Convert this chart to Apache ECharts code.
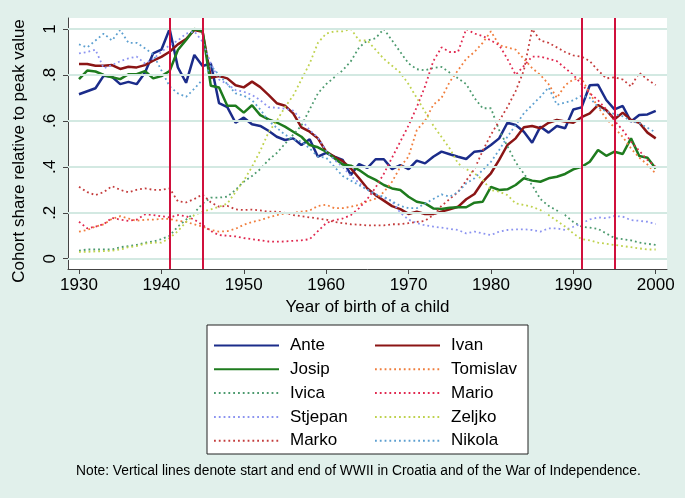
<!DOCTYPE html>
<html><head><meta charset="utf-8">
<script src="https://cdn.jsdelivr.net/npm/echarts@6/dist/echarts.min.js"></script>
<style>html,body{margin:0;padding:0;background:#e1f0eb;}#c{width:685px;height:498px;}</style>
</head><body><div id="c"></div>
<script>
const years = [1930,1931,1932,1933,1934,1935,1936,1937,1938,1939,
1940,1941,1942,1943,1944,1945,1946,1947,1948,1949,
1950,1951,1952,1953,1954,1955,1956,1957,1958,1959,
1960,1961,1962,1963,1964,1965,1966,1967,1968,1969,
1970,1971,1972,1973,1974,1975,1976,1977,1978,1979,
1980,1981,1982,1983,1984,1985,1986,1987,1988,1989,
1990,1991,1992,1993,1994,1995,1996,1997,1998,1999,2000];

const xTicks = [1930,1940,1950,1960,1970,1980,1990,2000];
const yTicks = [0,0.2,0.4,0.6,0.8,1];
const warLines = [1941,1945,1991,1995];

const ante = [.716,.729,.742,.797,.792,.760,.770,.760,.810,.894,
.910,1.0,.833,.766,.887,.839,.850,.677,.660,.592,
.614,.585,.578,.557,.531,.517,.524,.495,.520,.444,
.461,.444,.430,.365,.412,.395,.433,.433,.390,.408,
.390,.427,.415,.444,.466,.455,.444,.434,.466,.470,
.495,.524,.592,.582,.553,.505,.575,.549,.578,.568,
.650,.659,.755,.757,.691,.650,.665,.597,.626,.628,.644];

const ivan = [.848,.848,.840,.840,.843,.826,.836,.833,.843,.862,
.879,.901,.933,.956,.996,.988,.788,.795,.785,.755,
.746,.771,.747,.713,.677,.666,.633,.572,.553,.524,
.466,.444,.425,.393,.350,.306,.277,.253,.229,.216,
.195,.205,.195,.195,.205,.215,.226,.259,.282,.335,
.372,.430,.495,.524,.572,.578,.568,.592,.604,.597,
.592,.616,.633,.669,.647,.607,.636,.604,.592,.549,.524];

const josip = [.782,.819,.815,.800,.790,.782,.803,.803,.817,.785,
.795,.817,.909,.952,1.0,.991,.753,.745,.666,.666,
.636,.668,.625,.607,.593,.575,.553,.531,.495,.485,
.466,.437,.410,.405,.386,.361,.343,.321,.306,.299,
.270,.248,.241,.219,.216,.222,.224,.224,.244,.248,
.313,.299,.302,.321,.350,.340,.335,.350,.357,.369,
.389,.400,.422,.473,.448,.466,.456,.524,.447,.440,.393];

const tomislav = [.118,.125,.140,.150,.173,.185,.175,.165,.170,.170,
.173,.173,.165,.160,.150,.140,.125,.118,.120,.130,
.148,.160,.168,.180,.190,.197,.200,.205,.210,.230,
.235,.220,.220,.226,.235,.250,.262,.290,.335,.400,
.445,.560,.600,.670,.700,.770,.820,.870,.900,.940,
.990,.930,.920,.910,.870,.830,.800,.760,.700,.755,
.780,.785,.720,.660,.610,.570,.530,.480,.440,.410,.370];

const ivica = [.035,.040,.040,.040,.040,.050,.055,.060,.070,.075,
.085,.100,.140,.170,.200,.240,.266,.266,.270,.300,
.335,.360,.390,.430,.460,.500,.540,.580,.650,.720,
.760,.790,.820,.860,.920,.950,.960,1.0,.950,.900,
.850,.825,.820,.830,.835,.810,.785,.760,.700,.655,
.655,.560,.490,.420,.370,.320,.260,.230,.210,.190,
.160,.140,.135,.130,.110,.090,.085,.080,.070,.065,.060];

const mario = [.161,.132,.140,.150,.178,.170,.165,.170,.193,.190,
.185,.180,.190,.185,.170,.147,.120,.103,.100,.097,
.090,.085,.080,.075,.074,.075,.078,.080,.085,.120,
.155,.168,.175,.190,.220,.260,.310,.370,.440,.510,
.580,.660,.750,.860,.920,.900,.900,1.0,.980,.970,
.950,.930,.870,.800,.840,.880,.880,.870,.860,.830,
.800,.760,.720,.690,.650,.600,.560,.510,.470,.430,.400];

const stjepan = [.894,.900,.910,.829,.843,.860,.872,.880,.850,.870,
.900,.930,.950,.980,.990,.945,.850,.780,.760,.734,
.727,.713,.690,.660,.657,.653,.645,.604,.560,.527,
.470,.430,.400,.360,.330,.300,.280,.265,.250,.200,
.170,.155,.145,.140,.135,.130,.125,.110,.118,.110,
.103,.118,.125,.128,.128,.125,.118,.132,.132,.125,
.139,.154,.171,.180,.176,.186,.183,.168,.165,.161,.151];

const zeljko = [.030,.030,.032,.033,.035,.040,.050,.055,.065,.070,
.070,.090,.120,.160,.190,.205,.215,.226,.240,.290,
.340,.400,.470,.550,.600,.660,.710,.780,.850,.940,
.980,.990,.990,1.0,.950,.950,.910,.870,.840,.810,
.760,.700,.640,.580,.530,.480,.415,.390,.372,.343,
.299,.292,.277,.241,.234,.226,.212,.190,.165,.140,
.110,.085,.080,.070,.065,.060,.055,.050,.045,.040,.040];

const marko = [.313,.290,.277,.290,.316,.300,.289,.300,.306,.300,
.300,.306,.250,.245,.260,.280,.245,.226,.230,.215,
.212,.214,.210,.205,.205,.200,.190,.185,.180,.175,
.170,.160,.155,.150,.148,.145,.145,.145,.150,.150,
.155,.160,.165,.190,.230,.260,.290,.340,.390,.470,
.540,.600,.660,.730,.820,1.0,.950,.940,.920,.900,
.885,.880,.860,.820,.785,.790,.780,.750,.810,.780,.756];

const nikola = [.933,.920,.950,.980,.950,.996,.940,.940,.916,.890,
.820,.750,.720,.705,.740,.780,.840,.800,.760,.720,
.710,.690,.650,.600,.570,.540,.520,.510,.480,.445,
.440,.400,.360,.340,.320,.300,.280,.270,.250,.230,
.220,.220,.240,.260,.280,.270,.290,.328,.350,.386,
.422,.473,.531,.582,.633,.669,.705,.746,.670,.680,
.690,.710,.700,.660,.640,.630,.620,.600,.590,.570,.550];

const names = ['Ante','Ivan','Josip','Tomislav','Ivica','Mario','Stjepan','Zeljko','Marko','Nikola'];
const values = [ante,ivan,josip,tomislav,ivica,mario,stjepan,zeljko,marko,nikola];
const colors = ['#1b2c8a','#8b1515','#1e7b1e','#f07d3c','#4c9a6e','#e0284f','#8c94f0','#bfd24e','#c43c3c','#5c9fd0'];
const solid = [true,true,true,false,false,false,false,false,false,false];

const FONT = '"Liberation Sans", Arial, sans-serif';
const note = 'Note: Vertical lines denote start and end of WWII in Croatia and of the War of Independence.';

const fmtY = v => v === 0 ? '0' : (v === 1 ? '1' : String(Math.round(v*10)/10).replace(/^0/, ''));

const series = names.map((n,i) => ({
  name: n, type: 'line', z: 3,
  symbol: 'circle', showSymbol: false,
  data: years.map((y,k) => [y, values[i][k]]),
  lineStyle: solid[i] ? {color: colors[i], width: 2.5, type: 'solid'}
                      : {color: colors[i], width: 1.8, type: [1.8, 3], cap: 'butt'},
  itemStyle: {color: colors[i]},
  silent: true
}));

series.unshift({
  type: 'line', name: '_grid', data: [], z: 1, silent: true,
  markLine: {
    silent: true, symbol: ['none','none'], label: {show: false}, animation: false,
    lineStyle: {type: 'solid', color: '#d3e9e2', width: 2, opacity: 1},
    data: yTicks.map(v => ({yAxis: v}))
  }
});
series.push({
  type: 'line', name: '_wars', data: [], z: 2, silent: true,
  markLine: {
    silent: true, symbol: ['none','none'], label: {show: false}, animation: false,
    lineStyle: {type: 'solid', color: '#d0103c', width: 2},
    data: warLines.map(v => ({xAxis: v}))
  }
});

const legendCommon = {
  orient: 'vertical', top: 332, itemWidth: 65, itemHeight: 14, itemGap: 6.8,
  selectedMode: false, padding: 5,
  itemStyle: {color: 'rgba(0,0,0,0)', borderColor: 'rgba(0,0,0,0)', borderWidth: 0},
  textStyle: {fontSize: 17, color: '#000', fontFamily: FONT, padding: [0,0,0,6]}
};

const option = {
  animation: false,
  backgroundColor: '#e1f0eb',
  textStyle: {fontFamily: FONT},
  title: {text: note, left: 71, top: 459,
    textStyle: {fontSize: 13.8, fontWeight: 'normal', color: '#000', fontFamily: FONT}},
  grid: {left: 68, right: 18, top: 18, bottom: 229, show: true, backgroundColor: '#ffffff', borderWidth: 0},
  xAxis: {
    type: 'value', min: 1928.665, max: 2001.37,
    name: 'Year of birth of a child', nameLocation: 'middle', nameGap: 30,
    nameTextStyle: {fontSize: 17, color: '#000', fontFamily: FONT},
    axisLine: {show: true, onZero: false, lineStyle: {color: '#444', width: 1}},
    axisTick: {show: true, length: 5, customValues: xTicks, lineStyle: {color: '#444'}},
    axisLabel: {customValues: xTicks, fontSize: 17, color: '#000', margin: 8, fontFamily: FONT,
      formatter: v => String(v)},
    splitLine: {show: false}
  },
  yAxis: {
    type: 'value', min: -0.0448, max: 1.048,
    name: 'Cohort share relative to peak value', nameLocation: 'middle', nameGap: 40, nameRotate: 90,
    nameTextStyle: {fontSize: 17, color: '#000', fontFamily: FONT, padding: [0, 15, 0, 0]},
    axisLine: {show: true, onZero: false, lineStyle: {color: '#444', width: 1}},
    axisTick: {show: true, length: 5, customValues: yTicks, lineStyle: {color: '#444'}},
    axisLabel: {customValues: yTicks, rotate: 90, fontSize: 17, color: '#000', margin: 9, formatter: fmtY, fontFamily: FONT},
    splitLine: {show: false}
  },
  legend: [
    Object.assign({}, legendCommon, {left: 208, data: ['Ante','Josip','Ivica','Stjepan','Marko']}),
    Object.assign({}, legendCommon, {left: 369, data: ['Ivan','Tomislav','Mario','Zeljko','Nikola']})
  ],
  graphic: [{
    type: 'rect', z: 0, silent: true,
    shape: {x: 207, y: 325, width: 321, height: 129},
    style: {fill: '#ffffff', stroke: '#222', lineWidth: 1}
  }],
  series: series
};

const chart = echarts.init(document.getElementById('c'), null, {renderer: 'canvas'});
chart.setOption(option);
</script></body></html>
